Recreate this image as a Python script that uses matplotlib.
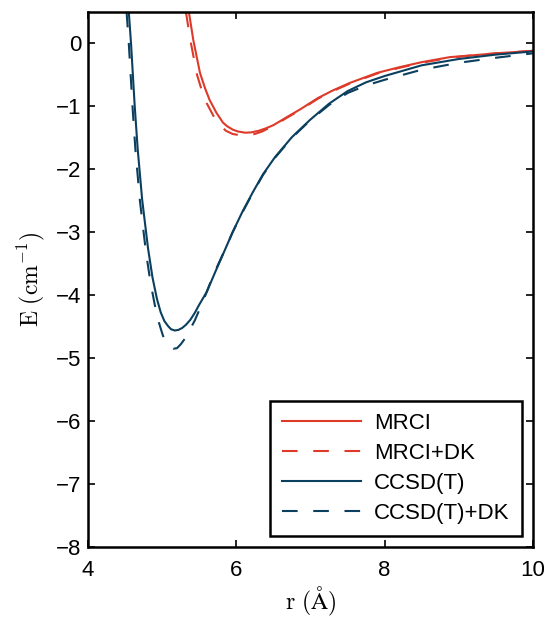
import matplotlib
matplotlib.use("Agg")
import matplotlib.pyplot as plt

plt.rcParams['font.family'] = ['Liberation Sans', 'DejaVu Sans']
plt.rcParams['mathtext.fontset'] = 'cm'

# values
r_mrci = [5.36, 5.42, 5.51, 5.58, 5.64, 5.73, 5.82, 5.88, 5.95, 6.02, 6.12, 6.2, 6.3, 6.4, 6.5, 6.7, 6.86, 7.1, 7.3, 7.53, 7.9, 8.2, 8.5, 8.88, 9.2, 9.5, 10.0]
e_mrci = [0.5, 0.05, -0.47, -0.72, -0.9, -1.1, -1.26, -1.32, -1.37, -1.40, -1.42, -1.415, -1.39, -1.35, -1.30, -1.16, -1.05, -0.87, -0.75, -0.63, -0.47, -0.38, -0.30, -0.22, -0.19, -0.16, -0.12]

r_mrci_dk = [5.32, 5.38, 5.47, 5.54, 5.6, 5.69, 5.78, 5.86, 5.95, 6.05, 6.15, 6.25, 6.35, 6.5, 6.7, 6.86, 7.1, 7.3, 7.53, 7.9, 8.2, 8.5, 8.88, 9.2, 9.5, 10.0]
e_mrci_dk = [0.5, 0.05, -0.5, -0.77, -0.95, -1.15, -1.3, -1.39, -1.44, -1.46, -1.46, -1.44, -1.40, -1.31, -1.17, -1.06, -0.88, -0.76, -0.64, -0.48, -0.39, -0.31, -0.23, -0.19, -0.16, -0.12]

r_cc = [4.55, 4.58, 4.63, 4.67, 4.73, 4.81, 4.87, 4.93, 4.98, 5.03, 5.08, 5.12, 5.17, 5.22, 5.27, 5.32, 5.38, 5.44, 5.5, 5.6, 5.72, 5.85, 5.95, 6.08, 6.22, 6.36, 6.52, 6.75, 7.0, 7.25, 7.5, 7.75, 8.0, 8.5, 9.0, 9.5, 10.0]
e_cc = [0.5, 0.0, -1.0, -1.68, -2.48, -3.26, -3.72, -4.06, -4.27, -4.41, -4.49, -4.54, -4.56, -4.55, -4.52, -4.47, -4.39, -4.28, -4.15, -3.95, -3.62, -3.27, -3.0, -2.68, -2.37, -2.08, -1.81, -1.49, -1.21, -0.96, -0.76, -0.62, -0.52, -0.35, -0.25, -0.18, -0.13]

r_cc_dk = [4.52, 4.55, 4.60, 4.64, 4.70, 4.78, 4.84, 4.90, 4.96, 5.01, 5.06, 5.10, 5.15, 5.20, 5.25, 5.30, 5.35, 5.44, 5.55, 5.65, 5.74, 5.85, 5.95, 6.08, 6.22, 6.36, 6.52, 6.75, 7.0, 7.25, 7.5, 7.75, 8.0, 8.5, 9.0, 9.5, 10.0]
e_cc_dk = [0.5, 0.0, -1.0, -1.7, -2.5, -3.3, -3.78, -4.15, -4.45, -4.64, -4.76, -4.82, -4.85, -4.84, -4.78, -4.7, -4.6, -4.4, -4.1, -3.8, -3.55, -3.27, -3.0, -2.69, -2.38, -2.09, -1.82, -1.5, -1.22, -0.98, -0.79, -0.67, -0.58, -0.42, -0.31, -0.23, -0.16]

red = '#DE3A2A'
blue = '#0B3F5F'
dash = (0, (7.5, 7.5))

fig = plt.figure(figsize=(5.5, 6.19), dpi=100)
ax = fig.add_axes([0.16, 0.116, 0.809, 0.865])

ax.plot(r_mrci, e_mrci, color=red, lw=1.5, label='MRCI')
ax.plot(r_mrci_dk, e_mrci_dk, color=red, lw=1.5, ls=dash, label='MRCI+DK')
ax.plot(r_cc, e_cc, color=blue, lw=1.5, label='CCSD(T)')
ax.plot(r_cc_dk, e_cc_dk, color=blue, lw=1.5, ls=dash, label='CCSD(T)+DK')

ax.set_xlim(4, 10)
ax.set_ylim(-8, 0.5)
ax.set_xticks([4, 6, 8, 10])
ax.set_yticks(range(-8, 1))
ax.tick_params(direction='in', top=True, right=True, length=5, width=1.2, labelsize=16)
ax.tick_params(axis='x', pad=9)
ax.tick_params(axis='y', pad=5)
for s in ax.spines.values():
    s.set_linewidth(1.8)

ax.set_xlabel(r'$\mathrm{r\ (\AA)}$', fontsize=17, labelpad=3)
ax.set_ylabel(r'$\mathrm{E\ (cm^{-1})}$', fontsize=17, labelpad=6)

leg = ax.legend(loc='lower right', fontsize=16, handlelength=3.55, handletextpad=0.6,
                labelspacing=0.4, borderpad=0.55, fancybox=False, edgecolor='black',
                framealpha=1, borderaxespad=0.5)
leg.get_frame().set_linewidth(1.8)

fig.savefig('out.png', dpi=100)
